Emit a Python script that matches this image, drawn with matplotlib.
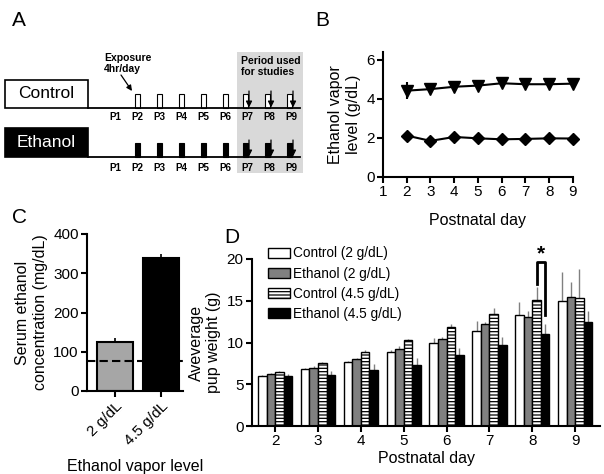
import matplotlib
matplotlib.use("Agg")
import matplotlib.pyplot as plt
import numpy as np
from matplotlib.patches import Rectangle

plt.rcParams['font.family'] = ['Liberation Sans', 'DejaVu Sans']

# ---- data ----
# panel A: schedule
sched_days = [1, 2, 3, 4, 5, 6, 7, 8, 9]
exposure_days = [2, 3, 4, 5, 6, 7, 8, 9]
study_days = [7, 8, 9]

# panel B: vapor level per day
b_days = [2, 3, 4, 5, 6, 7, 8, 9]
vapor_high = [4.42, 4.5, 4.62, 4.68, 4.8, 4.75, 4.75, 4.78]
vapor_high_err = [0.42, 0.05, 0.05, 0.05, 0.05, 0.05, 0.05, 0.05]
vapor_low = [2.12, 1.85, 2.05, 1.98, 1.93, 1.95, 1.98, 1.97]

# panel C: serum ethanol
c_groups = ["2 g/dL", "4.5 g/dL"]
serum = [125, 340]
serum_err = [9, 10]
serum_ref = 76

# panel D: pup weight
d_days = [2, 3, 4, 5, 6, 7, 8, 9]
d_labels = ["Control (2 g/dL)", "Ethanol (2 g/dL)", "Control (4.5 g/dL)", "Ethanol (4.5 g/dL)"]
ctl2 = [6.0, 6.85, 7.7, 8.85, 9.9, 11.4, 13.25, 15.0]
eth2 = [6.2, 6.9, 8.05, 9.2, 10.4, 12.2, 13.1, 15.45]
ctl45 = [6.5, 7.6, 8.85, 10.3, 11.8, 13.4, 15.1, 15.3]
eth45 = [6.0, 6.1, 6.75, 7.3, 8.5, 9.66, 11.05, 12.5]
ctl2_err = [0.08, 0.05, 0.1, 0.25, 0.6, 1.2, 1.65, 3.5]
eth2_err = [0.1, 0.3, 0.1, 0.4, 0.3, 0.3, 0.7, 1.75]
ctl45_err = [0.12, 0.1, 0.25, 0.1, 0.4, 0.7, 1.5, 3.5]
eth45_err = [0.2, 0.5, 0.7, 0.8, 0.9, 0.95, 1.15, 1.3]
sig_day = 8
sig_legs = [17.0, 13.25]   # bracket leg ends (left, right)
sig_top = 19.7

fig = plt.figure(figsize=(6.04, 4.74), dpi=100)
W, H = 604.0, 474.0

def box(x0, y0, x1, y1):
    # pixel box (top-left origin) -> figure fraction
    return [x0 / W, 1 - y1 / H, (x1 - x0) / W, (y1 - y0) / H]

# ---- panel A (schematic, drawn in pixel units) ----
axA = fig.add_axes(box(0, 0, 310, 190))
axA.set_xlim(0, 310)
axA.set_ylim(190, 0)
axA.axis('off')

def xpos(d):
    return 115 + (d - 1) * 22

axA.add_patch(Rectangle((237, 52), 66, 121, color='#d9d9d9', lw=0))
axA.text(241, 56, "Period used\nfor studies", fontsize=7.5, fontweight='bold', va='top', linespacing=1.15)
axA.text(104, 53, "Exposure\n4hr/day", fontsize=7.5, fontweight='bold', va='top', linespacing=1.15)
axA.annotate("", xy=(132, 91), xytext=(121, 75),
             arrowprops=dict(arrowstyle='-|>', lw=0.9, color='black', mutation_scale=8,
                             shrinkA=0, shrinkB=0))

rows = [("Control", 80, 108, 'white', 'black', 117),
        ("Ethanol", 128, 157, 'black', 'white', 168)]
for name, top, base, fc, tc, ly in rows:
    axA.add_patch(Rectangle((5, top), 83, base - top, facecolor=fc, edgecolor='black', lw=1.2))
    axA.text(46, (top + base) / 2, name, fontsize=12.5, color=tc, ha='center', va='center')
    axA.plot([88, 300], [base, base], color='black', lw=1.3)
    for d in sched_days:
        axA.text(xpos(d), ly, "P%d" % d, fontsize=7, fontweight='bold', ha='center', va='center')
    for d in exposure_days:
        shift = -2 if d in study_days else 0
        axA.add_patch(Rectangle((xpos(d) + shift - 2.5, base - 14), 5, 14,
                                facecolor=fc, edgecolor='black', lw=0.8))
    for d in study_days:
        axA.annotate("", xy=(xpos(d) + 2, base - 0.5), xytext=(xpos(d) + 2, base - 17),
                     arrowprops=dict(arrowstyle='-|>', lw=0.9, color='black', mutation_scale=9,
                                     shrinkA=0, shrinkB=0))

# ---- panel B ----
axB = fig.add_axes(box(383, 52, 573, 177))
axB.errorbar(b_days, vapor_high, yerr=vapor_high_err, color='black', marker='v', ms=8,
             lw=1.5, capsize=0, clip_on=False)
axB.plot(b_days, vapor_low, color='black', marker='D', ms=6, lw=1.5, clip_on=False)
axB.set_xlim(1, 9)
axB.set_ylim(0, 6.4)
axB.set_xticks(range(1, 10))
axB.set_yticks([0, 2, 4, 6])
axB.set_xlabel("Postnatal day", fontsize=11.5, labelpad=10)
axB.set_ylabel("Ethanol vapor\nlevel (g/dL)", fontsize=11.5)

# ---- panel C ----
axC = fig.add_axes(box(87, 234, 183, 391))
xc = np.arange(len(c_groups))
axC.bar(xc, serum, width=0.78, color=['#a6a6a6', 'black'], edgecolor='black', lw=1.5, zorder=2)
axC.errorbar(xc, serum, yerr=[[0, 0], serum_err], fmt='none', ecolor='black', lw=1.2,
             capsize=0, zorder=1)
axC.axhline(serum_ref, color='black', ls=(0, (4, 2)), lw=1.5, zorder=3)
axC.set_xlim(-0.61, 1.48)
axC.set_ylim(0, 400)
axC.set_yticks([0, 100, 200, 300, 400])
axC.set_xticks(xc)
axC.set_xticklabels(c_groups, rotation=45, ha='right', rotation_mode='anchor')
axC.set_xlabel("Ethanol vapor level", fontsize=11.5, labelpad=8)
axC.set_ylabel("Serum ethanol\nconcentration (mg/dL)", fontsize=11.5)

# ---- panel D ----
axD = fig.add_axes(box(252, 259, 600, 426))
plt.rcParams['hatch.linewidth'] = 0.9
series = [ctl2, eth2, ctl45, eth45]
errs = [ctl2_err, eth2_err, ctl45_err, eth45_err]
styles = [dict(color='white', hatch=None), dict(color='#808080', hatch=None),
          dict(color='white', hatch='-----'), dict(color='black', hatch=None)]
xd = np.array(d_days, dtype=float)
bw = 0.2
for i, (vals, er, st) in enumerate(zip(series, errs, styles)):
    xs = xd + (i - 1.5) * bw
    axD.errorbar(xs, vals, yerr=[np.zeros(len(er)), er], fmt='none', ecolor='#808080',
                 lw=1.0, capsize=0, zorder=1)
    axD.bar(xs, vals, width=bw, facecolor=st['color'], hatch=st['hatch'],
            edgecolor='black', lw=1.0, zorder=2, label=d_labels[i])
# significance bracket
xl = sig_day + 0.5 * bw
xr = sig_day + 1.5 * bw
axD.plot([xl, xl, xr, xr], [sig_legs[0], sig_top, sig_top, sig_legs[1]], color='black', lw=2,
         clip_on=False)
axD.text((xl + xr) / 2, 19.5, "*", fontsize=15, fontweight='bold', ha='center', va='bottom')
axD.set_xlim(1.46, 9.58)
axD.set_ylim(0, 20)
axD.set_xticks(d_days)
axD.set_yticks([0, 5, 10, 15, 20])
axD.set_xlabel("Postnatal day", fontsize=11.5, labelpad=2)
axD.set_ylabel("Aveverage\npup weight (g)", fontsize=11.5)
axD.legend(loc='upper left', bbox_to_anchor=(0.045, 1.075), frameon=False, fontsize=9.8,
           handlelength=1.65, handleheight=0.75, handletextpad=0.2, labelspacing=0.45,
           borderpad=0, borderaxespad=0)

for ax in (axB, axC, axD):
    for s in ('top', 'right'):
        ax.spines[s].set_visible(False)
    for s in ('left', 'bottom'):
        ax.spines[s].set_linewidth(1.5)
    ax.tick_params(direction='out', length=4, width=1.5, labelsize=11, pad=2)

# panel letters
fig.text(12 / W, 1 - 26 / H, "A", fontsize=15)
fig.text(315 / W, 1 - 26 / H, "B", fontsize=15)
fig.text(12 / W, 1 - 223 / H, "C", fontsize=15)
fig.text(224 / W, 1 - 243 / H, "D", fontsize=15)

fig.savefig("out.png", dpi=100)
